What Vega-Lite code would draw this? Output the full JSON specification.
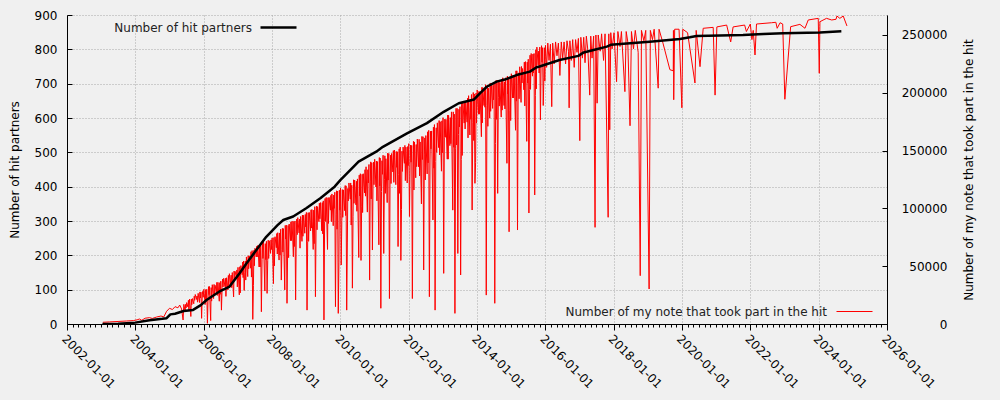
{
"$schema": "https://vega.github.io/schema/vega-lite/v6.json",
"width": 820, "height": 309,
"autosize": {"type": "none"},
"padding": {"left": 67, "top": 15, "right": 113, "bottom": 76},
"background": "#f0f0f0",
"config": {
  "view": {"stroke": null},
  "font": "DejaVu Sans",
  "axis": {"labelFont": "DejaVu Sans", "labelFontSize": 12, "labelColor": "#000", "titleFont": "DejaVu Sans", "titleFontSize": 12, "titleFontWeight": "normal", "titleColor": "#000", "domainColor": "#000", "tickColor": "#000", "gridColor": "#a8a8a8", "gridDash": [1, 2], "gridOpacity": 1}
},
"datasets": {
"notes": [
{"date":"2003-01-20","notes":1500},{"date":"2003-04-01","notes":1800},{"date":"2003-07-01","notes":2200},{"date":"2003-10-01","notes":2600},{"date":"2003-12-15","notes":3000},
{"date":"2004-01-20","notes":3600},{"date":"2004-02-15","notes":4300},{"date":"2004-03-10","notes":3200},{"date":"2004-04-15","notes":5000},{"date":"2004-06-01","notes":5500},{"date":"2004-07-01","notes":4800},{"date":"2004-08-15","notes":6000},{"date":"2004-10-01","notes":6900},{"date":"2004-11-01","notes":6200},{"date":"2004-12-01","notes":11000},
{"date":"2005-01-01","notes":13600},{"date":"2005-02-01","notes":12500},{"date":"2005-03-01","notes":15000},{"date":"2005-04-01","notes":14000},{"date":"2005-04-20","notes":16400},{"date":"2005-05-10","notes":13000},{"date":"2005-05-26","notes":3500},
{"date":"2005-06-03","notes":17000},{"date":"2005-06-17","notes":10900},{"date":"2005-07-03","notes":18500},{"date":"2005-07-17","notes":14700},{"date":"2005-08-03","notes":21500},{"date":"2005-08-17","notes":6500},{"date":"2005-09-03","notes":22000},{"date":"2005-09-17","notes":17500},{"date":"2005-10-03","notes":25500},{"date":"2005-10-17","notes":21300},{"date":"2005-11-03","notes":26500},{"date":"2005-11-17","notes":18600},{"date":"2005-12-03","notes":27500},{"date":"2005-12-10","notes":4900},{"date":"2005-12-17","notes":25200},
{"date":"2006-01-03","notes":30000},{"date":"2006-01-17","notes":16800},{"date":"2006-02-03","notes":30000},{"date":"2006-02-10","notes":600},{"date":"2006-02-17","notes":21900},{"date":"2006-03-03","notes":32500},{"date":"2006-03-17","notes":3000},{"date":"2006-04-03","notes":34000},{"date":"2006-04-17","notes":22000},{"date":"2006-05-03","notes":33500},{"date":"2006-05-17","notes":27100},{"date":"2006-06-03","notes":36000},{"date":"2006-06-17","notes":19700},{"date":"2006-07-03","notes":37000},{"date":"2006-07-10","notes":12000},{"date":"2006-07-17","notes":31400},{"date":"2006-08-03","notes":39500},{"date":"2006-08-17","notes":32300},{"date":"2006-09-03","notes":40000},{"date":"2006-09-17","notes":29500},{"date":"2006-10-03","notes":43500},{"date":"2006-10-17","notes":34500},{"date":"2006-11-03","notes":44500},{"date":"2006-11-17","notes":23400},{"date":"2006-12-03","notes":45500},{"date":"2006-12-17","notes":40500},
{"date":"2007-01-03","notes":49000},{"date":"2007-01-17","notes":25200},{"date":"2007-02-03","notes":50500},{"date":"2007-02-17","notes":42600},{"date":"2007-03-03","notes":54500},{"date":"2007-03-10","notes":29000},{"date":"2007-03-17","notes":44800},{"date":"2007-04-03","notes":58000},{"date":"2007-04-17","notes":41000},{"date":"2007-05-03","notes":59000},{"date":"2007-05-17","notes":48300},{"date":"2007-06-03","notes":63500},{"date":"2007-06-10","notes":4000},{"date":"2007-06-17","notes":33400},{"date":"2007-07-03","notes":65500},{"date":"2007-07-17","notes":58000},{"date":"2007-08-03","notes":68000},{"date":"2007-08-17","notes":49300},{"date":"2007-09-03","notes":68000},{"date":"2007-09-10","notes":10600},{"date":"2007-09-17","notes":55900},{"date":"2007-10-03","notes":71000},{"date":"2007-10-17","notes":28500},{"date":"2007-11-03","notes":71500},{"date":"2007-11-10","notes":26500},{"date":"2007-11-17","notes":55000},{"date":"2007-12-03","notes":72000},{"date":"2007-12-17","notes":61100},
{"date":"2008-01-03","notes":74500},{"date":"2008-01-17","notes":34900},{"date":"2008-02-03","notes":75500},{"date":"2008-02-17","notes":66000},{"date":"2008-03-03","notes":79000},{"date":"2008-03-17","notes":55300},{"date":"2008-04-03","notes":82000},{"date":"2008-04-10","notes":38000},{"date":"2008-04-17","notes":64400},{"date":"2008-05-03","notes":82500},{"date":"2008-05-17","notes":29500},{"date":"2008-06-03","notes":85500},{"date":"2008-06-10","notes":17900},{"date":"2008-06-17","notes":64000},{"date":"2008-07-03","notes":86500},{"date":"2008-07-17","notes":72100},{"date":"2008-08-03","notes":89000},{"date":"2008-08-17","notes":58200},{"date":"2008-09-03","notes":89000},{"date":"2008-09-10","notes":20800},{"date":"2008-09-17","notes":78400},{"date":"2008-10-03","notes":92000},{"date":"2008-10-17","notes":78800},{"date":"2008-11-03","notes":93000},{"date":"2008-11-17","notes":71500},{"date":"2008-12-03","notes":94000},{"date":"2008-12-17","notes":78500},
{"date":"2009-01-03","notes":96500},{"date":"2009-01-10","notes":12000},{"date":"2009-01-17","notes":71500},{"date":"2009-02-03","notes":96500},{"date":"2009-02-17","notes":80500},{"date":"2009-03-03","notes":99000},{"date":"2009-03-17","notes":64500},{"date":"2009-04-03","notes":101500},{"date":"2009-04-10","notes":23600},{"date":"2009-04-17","notes":87800},{"date":"2009-05-03","notes":101500},{"date":"2009-05-17","notes":88500},{"date":"2009-06-03","notes":105000},{"date":"2009-06-17","notes":80500},{"date":"2009-07-03","notes":106500},{"date":"2009-07-10","notes":3500},{"date":"2009-07-17","notes":88800},{"date":"2009-08-03","notes":109500},{"date":"2009-08-17","notes":64500},{"date":"2009-09-03","notes":109500},{"date":"2009-09-17","notes":98500},{"date":"2009-10-03","notes":112500},{"date":"2009-10-17","notes":85000},{"date":"2009-11-03","notes":114000},{"date":"2009-11-10","notes":15000},{"date":"2009-11-17","notes":94500},{"date":"2009-12-03","notes":115000},{"date":"2009-12-10","notes":9200},{"date":"2009-12-17","notes":53500},
{"date":"2010-01-03","notes":117500},{"date":"2010-01-10","notes":51000},{"date":"2010-01-17","notes":89500},{"date":"2010-02-03","notes":116000},{"date":"2010-02-17","notes":98000},{"date":"2010-03-03","notes":119500},{"date":"2010-03-10","notes":12000},{"date":"2010-03-17","notes":70100},{"date":"2010-04-03","notes":122000},{"date":"2010-04-17","notes":108000},{"date":"2010-05-03","notes":120000},{"date":"2010-05-10","notes":31000},{"date":"2010-05-17","notes":93200},{"date":"2010-06-03","notes":124500},{"date":"2010-06-17","notes":103100},{"date":"2010-07-03","notes":125500},{"date":"2010-07-17","notes":57500},{"date":"2010-08-03","notes":130000},{"date":"2010-08-10","notes":55000},{"date":"2010-08-17","notes":102000},{"date":"2010-09-03","notes":130000},{"date":"2010-09-17","notes":113400},{"date":"2010-10-03","notes":136000},{"date":"2010-10-17","notes":96800},{"date":"2010-11-03","notes":138000},{"date":"2010-11-10","notes":38000},{"date":"2010-11-17","notes":123600},{"date":"2010-12-03","notes":139500},{"date":"2010-12-10","notes":64000},{"date":"2010-12-17","notes":124700},
{"date":"2011-01-03","notes":142500},{"date":"2011-01-17","notes":118500},{"date":"2011-02-03","notes":140500},{"date":"2011-02-17","notes":68500},{"date":"2011-03-03","notes":143500},{"date":"2011-03-10","notes":13600},{"date":"2011-03-17","notes":114500},{"date":"2011-04-03","notes":146000},{"date":"2011-04-10","notes":61000},{"date":"2011-04-17","notes":125000},{"date":"2011-05-03","notes":143000},{"date":"2011-05-17","notes":105000},{"date":"2011-06-03","notes":147500},{"date":"2011-06-10","notes":22000},{"date":"2011-06-17","notes":132000},{"date":"2011-07-03","notes":147500},{"date":"2011-07-17","notes":131500},{"date":"2011-08-03","notes":150500},{"date":"2011-08-17","notes":120500},{"date":"2011-09-03","notes":149000},{"date":"2011-09-10","notes":67000},{"date":"2011-09-17","notes":129500},{"date":"2011-10-03","notes":153000},{"date":"2011-10-10","notes":55000},{"date":"2011-10-17","notes":99000},{"date":"2011-11-03","notes":153000},{"date":"2011-11-17","notes":139000},{"date":"2011-12-03","notes":153000},{"date":"2011-12-17","notes":122000},
{"date":"2012-01-03","notes":156000},{"date":"2012-01-10","notes":93000},{"date":"2012-01-17","notes":138400},{"date":"2012-02-03","notes":154500},{"date":"2012-02-10","notes":22000},{"date":"2012-02-17","notes":138300},{"date":"2012-03-03","notes":157500},{"date":"2012-03-17","notes":126500},{"date":"2012-04-03","notes":160000},{"date":"2012-04-17","notes":136000},{"date":"2012-05-03","notes":157500},{"date":"2012-05-17","notes":103900},{"date":"2012-06-03","notes":162000},{"date":"2012-06-10","notes":46700},{"date":"2012-06-17","notes":147000},{"date":"2012-07-03","notes":163000},{"date":"2012-07-17","notes":129800},{"date":"2012-08-03","notes":167500},{"date":"2012-08-10","notes":23600},{"date":"2012-08-17","notes":141900},{"date":"2012-09-03","notes":167000},{"date":"2012-09-17","notes":90000},{"date":"2012-10-03","notes":172500},{"date":"2012-10-10","notes":12000},{"date":"2012-10-17","notes":140500},{"date":"2012-11-03","notes":174000},{"date":"2012-11-17","notes":152600},{"date":"2012-12-03","notes":175000},{"date":"2012-12-17","notes":132200},
{"date":"2013-01-03","notes":178500},{"date":"2013-01-10","notes":43800},{"date":"2013-01-17","notes":161500},{"date":"2013-02-03","notes":177000},{"date":"2013-02-17","notes":142600},{"date":"2013-03-03","notes":180500},{"date":"2013-03-17","notes":154300},{"date":"2013-04-03","notes":183500},{"date":"2013-04-17","notes":98500},{"date":"2013-05-03","notes":181500},{"date":"2013-05-10","notes":9200},{"date":"2013-05-17","notes":151500},{"date":"2013-06-03","notes":186500},{"date":"2013-06-10","notes":61000},{"date":"2013-06-17","notes":163700},{"date":"2013-07-03","notes":188000},{"date":"2013-07-10","notes":42400},{"date":"2013-07-17","notes":142400},{"date":"2013-08-03","notes":192500},{"date":"2013-08-17","notes":173800},{"date":"2013-09-03","notes":192000},{"date":"2013-09-17","notes":174600},{"date":"2013-10-03","notes":197500},{"date":"2013-10-17","notes":163500},{"date":"2013-11-03","notes":198500},{"date":"2013-11-10","notes":98600},{"date":"2013-11-17","notes":174000},{"date":"2013-12-03","notes":199000},{"date":"2013-12-10","notes":121700},{"date":"2013-12-17","notes":139800},
{"date":"2014-01-03","notes":202500},{"date":"2014-01-17","notes":181500},{"date":"2014-02-03","notes":201000},{"date":"2014-02-17","notes":162000},{"date":"2014-03-03","notes":204500},{"date":"2014-03-17","notes":189000},{"date":"2014-04-03","notes":207000},{"date":"2014-04-10","notes":25000},{"date":"2014-04-17","notes":189000},{"date":"2014-05-03","notes":204000},{"date":"2014-05-17","notes":178000},{"date":"2014-06-03","notes":208000},{"date":"2014-06-17","notes":186500},{"date":"2014-07-03","notes":208000},{"date":"2014-07-10","notes":17900},{"date":"2014-07-17","notes":156000},{"date":"2014-08-03","notes":211000},{"date":"2014-08-10","notes":113000},{"date":"2014-08-17","notes":196000},{"date":"2014-09-03","notes":209000},{"date":"2014-09-17","notes":179000},{"date":"2014-10-03","notes":213000},{"date":"2014-10-17","notes":189000},{"date":"2014-11-03","notes":213000},{"date":"2014-11-17","notes":139000},{"date":"2014-12-03","notes":213000},{"date":"2014-12-10","notes":79800},{"date":"2014-12-17","notes":185000},
{"date":"2015-01-03","notes":216500},{"date":"2015-01-17","notes":195500},{"date":"2015-02-03","notes":215000},{"date":"2015-02-17","notes":167600},{"date":"2015-03-03","notes":219000},{"date":"2015-03-10","notes":81300},{"date":"2015-03-17","notes":206000},{"date":"2015-04-03","notes":222500},{"date":"2015-04-17","notes":191700},{"date":"2015-05-03","notes":221000},{"date":"2015-05-17","notes":202600},{"date":"2015-06-03","notes":227000},{"date":"2015-06-17","notes":158000},{"date":"2015-07-03","notes":229000},{"date":"2015-07-10","notes":96000},{"date":"2015-07-17","notes":203000},{"date":"2015-08-03","notes":234000},{"date":"2015-08-17","notes":214400},{"date":"2015-09-03","notes":234000},{"date":"2015-09-10","notes":111600},{"date":"2015-09-17","notes":197800},{"date":"2015-10-03","notes":239500},{"date":"2015-10-17","notes":224100},{"date":"2015-11-03","notes":239500},{"date":"2015-11-10","notes":176500},{"date":"2015-11-17","notes":223700},{"date":"2015-12-03","notes":239000},{"date":"2015-12-10","notes":189000},{"date":"2015-12-17","notes":213000},
{"date":"2016-01-03","notes":241000},{"date":"2016-01-15","notes":222000},{"date":"2016-01-28","notes":243000},{"date":"2016-02-10","notes":228000},{"date":"2016-02-25","notes":242000},{"date":"2016-03-10","notes":188000},{"date":"2016-03-20","notes":243000},{"date":"2016-04-05","notes":225000},{"date":"2016-04-20","notes":244000},{"date":"2016-05-05","notes":232000},{"date":"2016-05-20","notes":243000},{"date":"2016-06-05","notes":215000},{"date":"2016-06-20","notes":244000},{"date":"2016-07-05","notes":230000},{"date":"2016-07-20","notes":244000},{"date":"2016-08-05","notes":225000},{"date":"2016-08-20","notes":245000},{"date":"2016-09-05","notes":236000},{"date":"2016-09-12","notes":187000},{"date":"2016-09-20","notes":245000},{"date":"2016-10-05","notes":228000},{"date":"2016-10-20","notes":246000},{"date":"2016-11-05","notes":222000},{"date":"2016-11-20","notes":246000},{"date":"2016-12-05","notes":235000},{"date":"2016-12-20","notes":247000},
{"date":"2017-01-04","notes":158600},{"date":"2017-01-15","notes":248000},{"date":"2017-02-01","notes":230000},{"date":"2017-02-15","notes":248000},{"date":"2017-03-01","notes":226000},{"date":"2017-03-15","notes":249000},{"date":"2017-04-01","notes":236000},{"date":"2017-04-20","notes":198000},{"date":"2017-05-01","notes":249000},{"date":"2017-05-15","notes":230000},{"date":"2017-06-01","notes":249000},{"date":"2017-06-16","notes":83600},{"date":"2017-06-25","notes":250000},{"date":"2017-07-08","notes":191000},{"date":"2017-07-20","notes":250000},{"date":"2017-08-10","notes":236000},{"date":"2017-08-25","notes":251000},{"date":"2017-09-15","notes":228000},{"date":"2017-10-01","notes":251000},{"date":"2017-11-03","notes":92300},{"date":"2017-11-10","notes":251000},{"date":"2017-11-20","notes":168000},{"date":"2017-12-01","notes":252000},{"date":"2017-12-15","notes":238000},
{"date":"2018-01-05","notes":252000},{"date":"2018-02-01","notes":209600},{"date":"2018-02-15","notes":253000},{"date":"2018-03-10","notes":240000},{"date":"2018-03-25","notes":253000},{"date":"2018-05-01","notes":201000},{"date":"2018-05-15","notes":253000},{"date":"2018-06-01","notes":244000},{"date":"2018-06-25","notes":171500},{"date":"2018-07-10","notes":253000},{"date":"2018-08-01","notes":238000},{"date":"2018-08-20","notes":254000},{"date":"2018-09-20","notes":235000},{"date":"2018-10-12","notes":41800},{"date":"2018-10-25","notes":254000},{"date":"2018-11-20","notes":245000},{"date":"2018-12-10","notes":254000},
{"date":"2019-01-15","notes":30300},{"date":"2019-01-28","notes":254000},{"date":"2019-02-20","notes":246000},{"date":"2019-03-10","notes":255000},{"date":"2019-04-22","notes":204000},{"date":"2019-05-01","notes":255000},{"date":"2019-06-12","notes":243000},{"date":"2019-08-25","notes":220000},{"date":"2019-09-30","notes":219000},{"date":"2019-10-02","notes":254000},{"date":"2019-10-05","notes":194000},{"date":"2019-10-15","notes":255000},{"date":"2019-12-01","notes":255000},{"date":"2019-12-31","notes":187000},
{"date":"2020-01-10","notes":255000},{"date":"2020-03-01","notes":252000},{"date":"2020-05-19","notes":208500},{"date":"2020-06-01","notes":254000},{"date":"2020-07-12","notes":222600},{"date":"2020-08-15","notes":255800},{"date":"2020-11-30","notes":256600},{"date":"2020-12-20","notes":198000},
{"date":"2021-01-08","notes":257000},{"date":"2021-04-23","notes":258600},{"date":"2021-06-05","notes":244000},{"date":"2021-07-01","notes":257000},{"date":"2021-11-01","notes":258600},{"date":"2021-11-20","notes":253000},
{"date":"2022-01-01","notes":259500},{"date":"2022-01-18","notes":246000},{"date":"2022-02-01","notes":254000},{"date":"2022-02-20","notes":232700},{"date":"2022-03-08","notes":259500},{"date":"2022-08-15","notes":260600},{"date":"2022-10-01","notes":261000},{"date":"2022-10-15","notes":255800},{"date":"2022-11-15","notes":260600},{"date":"2022-12-13","notes":259500},
{"date":"2023-01-05","notes":194400},{"date":"2023-03-08","notes":257200},{"date":"2023-06-15","notes":259200},{"date":"2023-08-08","notes":255800},{"date":"2023-09-12","notes":263000},{"date":"2023-12-28","notes":264400},
{"date":"2024-01-08","notes":216900},{"date":"2024-01-15","notes":261500},{"date":"2024-03-25","notes":264400},{"date":"2024-05-20","notes":263000},{"date":"2024-07-05","notes":263600},{"date":"2024-07-15","notes":266400},{"date":"2024-08-15","notes":264400},{"date":"2024-09-20","notes":266400},{"date":"2024-10-30","notes":257800},
{"date":"2005-06-22","notes":17000},{"date":"2005-06-27","notes":13900},{"date":"2005-07-22","notes":20500},{"date":"2005-07-27","notes":12300},{"date":"2005-08-22","notes":21500},{"date":"2005-08-27","notes":16700},{"date":"2005-09-22","notes":24000},{"date":"2005-09-27","notes":20500},{"date":"2005-10-22","notes":24250},{"date":"2005-10-27","notes":18900},{"date":"2005-11-22","notes":27750},{"date":"2005-11-27","notes":22500},{"date":"2005-12-22","notes":28250},{"date":"2005-12-27","notes":23100},
{"date":"2006-01-22","notes":29750},{"date":"2006-01-27","notes":20400},{"date":"2006-02-22","notes":32250},{"date":"2006-02-27","notes":25500},{"date":"2006-03-22","notes":31500},{"date":"2006-03-27","notes":19800},{"date":"2006-04-22","notes":34250},{"date":"2006-04-27","notes":25000},{"date":"2006-05-22","notes":36000},{"date":"2006-05-27","notes":24700},{"date":"2006-06-22","notes":35750},{"date":"2006-06-27","notes":25700},{"date":"2006-07-22","notes":38750},{"date":"2006-07-27","notes":32000},{"date":"2006-08-22","notes":39500},{"date":"2006-08-27","notes":23900},{"date":"2006-09-22","notes":42000},{"date":"2006-09-27","notes":33100},{"date":"2006-10-22","notes":42250},{"date":"2006-10-27","notes":31500},{"date":"2006-11-22","notes":45750},{"date":"2006-11-27","notes":37800},{"date":"2006-12-22","notes":46750},{"date":"2006-12-27","notes":32100},
{"date":"2007-01-22","notes":49500},{"date":"2007-01-27","notes":26900},{"date":"2007-02-22","notes":53500},{"date":"2007-02-27","notes":40100},{"date":"2007-03-22","notes":54500},{"date":"2007-03-27","notes":38000},{"date":"2007-04-22","notes":59000},{"date":"2007-04-27","notes":47800},{"date":"2007-05-22","notes":62500},{"date":"2007-05-27","notes":40600},{"date":"2007-06-22","notes":63750},{"date":"2007-06-27","notes":50400},{"date":"2007-07-22","notes":67250},{"date":"2007-07-27","notes":58000},{"date":"2007-08-22","notes":67750},{"date":"2007-08-27","notes":49300},{"date":"2007-09-22","notes":69750},{"date":"2007-09-27","notes":56750},{"date":"2007-10-22","notes":69500},{"date":"2007-10-27","notes":55700},{"date":"2007-11-22","notes":72500},{"date":"2007-11-27","notes":56700},{"date":"2007-12-22","notes":72750},{"date":"2007-12-27","notes":64500},
{"date":"2008-01-22","notes":74750},{"date":"2008-01-27","notes":50300},{"date":"2008-02-22","notes":78250},{"date":"2008-02-27","notes":60500},{"date":"2008-03-22","notes":78750},{"date":"2008-03-27","notes":59700},{"date":"2008-04-22","notes":82750},{"date":"2008-04-27","notes":62200},{"date":"2008-05-22","notes":85250},{"date":"2008-05-27","notes":73500},{"date":"2008-06-22","notes":85250},{"date":"2008-06-27","notes":57400},{"date":"2008-07-22","notes":88250},{"date":"2008-07-27","notes":72100},{"date":"2008-08-22","notes":88750},{"date":"2008-08-27","notes":67000},{"date":"2008-09-22","notes":90750},{"date":"2008-09-27","notes":77300},{"date":"2008-10-22","notes":90750},{"date":"2008-10-27","notes":65600},{"date":"2008-11-22","notes":94250},{"date":"2008-11-27","notes":75900},{"date":"2008-12-22","notes":94750},{"date":"2008-12-27","notes":84000},
{"date":"2009-01-22","notes":96250},{"date":"2009-01-27","notes":71500},{"date":"2009-02-22","notes":98750},{"date":"2009-02-27","notes":83000},{"date":"2009-03-22","notes":98500},{"date":"2009-03-27","notes":69500},{"date":"2009-04-22","notes":102000},{"date":"2009-04-27","notes":81500},{"date":"2009-05-22","notes":104500},{"date":"2009-05-27","notes":91000},{"date":"2009-06-22","notes":105000},{"date":"2009-06-27","notes":78000},{"date":"2009-07-22","notes":108500},{"date":"2009-07-27","notes":88750},{"date":"2009-08-22","notes":109250},{"date":"2009-08-27","notes":87000},{"date":"2009-09-22","notes":111250},{"date":"2009-09-27","notes":88500},{"date":"2009-10-22","notes":111500},{"date":"2009-10-27","notes":100000},{"date":"2009-11-22","notes":115250},{"date":"2009-11-27","notes":82000},{"date":"2009-12-22","notes":115750},{"date":"2009-12-27","notes":98500},
{"date":"2010-01-22","notes":116250},{"date":"2010-01-27","notes":92300},{"date":"2010-02-22","notes":119750},{"date":"2010-02-27","notes":93800},{"date":"2010-03-22","notes":117250},{"date":"2010-03-27","notes":106500},{"date":"2010-04-22","notes":122000},{"date":"2010-04-27","notes":85600},{"date":"2010-05-22","notes":124750},{"date":"2010-05-27","notes":104400},{"date":"2010-06-22","notes":123500},{"date":"2010-06-27","notes":97500},{"date":"2010-07-22","notes":128750},{"date":"2010-07-27","notes":110700},{"date":"2010-08-22","notes":129500},{"date":"2010-08-27","notes":96400},{"date":"2010-09-22","notes":133500},{"date":"2010-09-27","notes":110600},{"date":"2010-10-22","notes":133500},{"date":"2010-10-27","notes":122000},{"date":"2010-11-22","notes":140250},{"date":"2010-11-27","notes":108200},{"date":"2010-12-22","notes":140000},{"date":"2010-12-27","notes":120500},
{"date":"2011-01-22","notes":141000},{"date":"2011-01-27","notes":106500},{"date":"2011-02-22","notes":144000},{"date":"2011-02-27","notes":119500},{"date":"2011-03-22","notes":141250},{"date":"2011-03-27","notes":129500},{"date":"2011-04-22","notes":145500},{"date":"2011-04-27","notes":113000},{"date":"2011-05-22","notes":147750},{"date":"2011-05-27","notes":124500},{"date":"2011-06-22","notes":146000},{"date":"2011-06-27","notes":121500},{"date":"2011-07-22","notes":150000},{"date":"2011-07-27","notes":122500},{"date":"2011-08-22","notes":149250},{"date":"2011-08-27","notes":135500},{"date":"2011-09-22","notes":151500},{"date":"2011-09-27","notes":113000},{"date":"2011-10-22","notes":149500},{"date":"2011-10-27","notes":132000},{"date":"2011-11-22","notes":154500},{"date":"2011-11-27","notes":124000},{"date":"2011-12-22","notes":153500},{"date":"2011-12-27","notes":137000},
{"date":"2012-01-22","notes":154750},{"date":"2012-01-27","notes":140000},{"date":"2012-02-22","notes":158000},{"date":"2012-02-27","notes":115900},{"date":"2012-03-22","notes":155250},{"date":"2012-03-27","notes":136100},{"date":"2012-04-22","notes":159750},{"date":"2012-04-27","notes":128000},{"date":"2012-05-22","notes":162250},{"date":"2012-05-27","notes":142300},{"date":"2012-06-22","notes":161000},{"date":"2012-06-27","notes":124600},{"date":"2012-07-22","notes":166250},{"date":"2012-07-27","notes":139400},{"date":"2012-08-22","notes":166750},{"date":"2012-08-27","notes":151500},{"date":"2012-09-22","notes":170250},{"date":"2012-09-27","notes":134800},{"date":"2012-10-22","notes":169750},{"date":"2012-10-27","notes":148500},{"date":"2012-11-22","notes":176000},{"date":"2012-11-27","notes":146200},{"date":"2012-12-22","notes":175750},{"date":"2012-12-27","notes":148200},
{"date":"2013-01-22","notes":177250},{"date":"2013-01-27","notes":161500},{"date":"2013-02-22","notes":180750},{"date":"2013-02-27","notes":142600},{"date":"2013-03-22","notes":178500},{"date":"2013-03-27","notes":156000},{"date":"2013-04-22","notes":183500},{"date":"2013-04-27","notes":152900},{"date":"2013-05-22","notes":186500},{"date":"2013-05-27","notes":154900},{"date":"2013-06-22","notes":185750},{"date":"2013-06-27","notes":170500},{"date":"2013-07-22","notes":191250},{"date":"2013-07-27","notes":145800},{"date":"2013-08-22","notes":191750},{"date":"2013-08-27","notes":168700},{"date":"2013-09-22","notes":195250},{"date":"2013-09-27","notes":161000},{"date":"2013-10-22","notes":194500},{"date":"2013-10-27","notes":177100},{"date":"2013-11-22","notes":200250},{"date":"2013-11-27","notes":158700},{"date":"2013-12-22","notes":199750},{"date":"2013-12-27","notes":173800},
{"date":"2014-01-22","notes":201250},{"date":"2014-01-27","notes":181500},{"date":"2014-02-22","notes":204750},{"date":"2014-02-27","notes":174000},{"date":"2014-03-22","notes":202250},{"date":"2014-03-27","notes":187500},{"date":"2014-04-22","notes":206500},{"date":"2014-04-27","notes":171000},{"date":"2014-05-22","notes":208500},{"date":"2014-05-27","notes":184000},{"date":"2014-06-22","notes":206500},{"date":"2014-06-27","notes":194000},{"date":"2014-07-22","notes":210500},{"date":"2014-07-27","notes":177000},{"date":"2014-08-22","notes":209500},{"date":"2014-08-27","notes":188500},{"date":"2014-09-22","notes":211500},{"date":"2014-09-27","notes":185000},{"date":"2014-10-22","notes":209500},{"date":"2014-10-27","notes":186000},{"date":"2014-11-22","notes":214500},{"date":"2014-11-27","notes":199000},{"date":"2014-12-22","notes":213750},{"date":"2014-12-27","notes":176000},
{"date":"2015-01-22","notes":215250},{"date":"2015-01-27","notes":195500},{"date":"2015-02-22","notes":219000},{"date":"2015-02-27","notes":192800},{"date":"2015-03-22","notes":217250},{"date":"2015-03-27","notes":194800},{"date":"2015-04-22","notes":222750},{"date":"2015-04-27","notes":208500},{"date":"2015-05-22","notes":226500},{"date":"2015-05-27","notes":188600},{"date":"2015-06-22","notes":226500},{"date":"2015-06-27","notes":208400},{"date":"2015-07-22","notes":232500},{"date":"2015-07-27","notes":203000},{"date":"2015-08-22","notes":233500},{"date":"2015-08-27","notes":217200},{"date":"2015-09-22","notes":237250},{"date":"2015-09-27","notes":203400},{"date":"2015-10-22","notes":236000},{"date":"2015-10-27","notes":217100},{"date":"2015-11-22","notes":240750},{"date":"2015-11-27","notes":226500},{"date":"2015-12-22","notes":239000},{"date":"2015-12-27","notes":210200}
],
"partners": [
{"date":"2003-01-15","partners":0},{"date":"2003-07-01","partners":1},{"date":"2004-01-01","partners":4},{"date":"2004-06-01","partners":11},{"date":"2004-10-15","partners":15},{"date":"2004-12-01","partners":17},{"date":"2005-01-10","partners":28},{"date":"2005-03-01","partners":30},{"date":"2005-06-01","partners":38},{"date":"2005-09-10","partners":41},{"date":"2005-12-01","partners":55},
{"date":"2006-02-01","partners":70},{"date":"2006-06-15","partners":94},{"date":"2006-10-05","partners":109},{"date":"2007-01-20","partners":148},{"date":"2007-04-05","partners":177},{"date":"2007-07-20","partners":216},{"date":"2007-11-01","partners":254},{"date":"2008-03-01","partners":288},{"date":"2008-05-01","partners":303},{"date":"2008-08-15","partners":313},{"date":"2009-01-01","partners":337},{"date":"2009-06-01","partners":366},{"date":"2009-11-01","partners":400},{"date":"2010-01-01","partners":419},{"date":"2010-07-15","partners":473},{"date":"2011-01-20","partners":502},{"date":"2011-04-01","partners":516},{"date":"2011-12-15","partners":555},{"date":"2012-07-15","partners":585},{"date":"2013-01-10","partners":618},{"date":"2013-06-20","partners":643},{"date":"2013-12-01","partners":654},{"date":"2014-02-01","partners":672},{"date":"2014-04-15","partners":691},{"date":"2014-07-30","partners":706},{"date":"2014-10-25","partners":712},{"date":"2015-02-28","partners":725},{"date":"2015-07-20","partners":735},{"date":"2015-09-30","partners":748},{"date":"2015-11-01","partners":750},{"date":"2016-06-01","partners":769},{"date":"2016-12-20","partners":781},{"date":"2017-02-15","partners":791},{"date":"2017-07-01","partners":800},{"date":"2017-10-20","partners":808},{"date":"2017-12-01","partners":813},{"date":"2018-06-25","partners":818},{"date":"2019-01-20","partners":822},{"date":"2019-12-10","partners":830},{"date":"2020-03-25","partners":835},{"date":"2020-06-05","partners":839},{"date":"2021-10-15","partners":842},{"date":"2022-05-20","partners":845},{"date":"2022-12-15","partners":847},{"date":"2024-01-15","partners":849},{"date":"2024-08-31","partners":853}
]
},
"layer": [
{
  "data": {"name": "notes"},
  "mark": {"type": "line", "strokeWidth": 1, "clip": true},
  "encoding": {
    "x": {"field": "date", "type": "temporal",
      "scale": {"type": "utc", "domain": [{"year": 2002, "month": 1, "date": 1, "utc": true}, {"year": 2026, "month": 1, "date": 1, "utc": true}]},
      "axis": {"orient": "bottom", "title": null, "format": "%Y-%m-%d", "tickCount": {"interval": "year", "step": 2}, "labelAngle": 45, "labelAlign": "left", "labelBaseline": "top", "tickSize": 6, "labelPadding": 3, "grid": true, "labelFlush": false, "labelOverlap": false}},
    "y": {"field": "notes", "type": "quantitative",
      "scale": {"domain": [0, 267300], "nice": false},
      "axis": {"orient": "right", "title": "Number of my note that took part in the hit", "values": [0, 50000, 100000, 150000, 200000, 250000], "format": "d", "grid": false, "tickSize": -5, "labelPadding": 65, "labelAlign": "right", "labelBaseline": "middle", "titleAngle": 270, "titleX": 81, "titleY": 154.5, "titleAlign": "center", "titleBaseline": "middle"}},
    "color": {"datum": "Number of my note that took part in the hit", "type": "nominal",
      "scale": {"range": ["#ff0000"]},
      "legend": {"orient": "none", "legendX": 769, "legendY": 278, "title": null, "symbolType": "stroke", "symbolSize": 1296, "symbolStrokeWidth": 1, "labelAlign": "right", "labelOffset": -46, "labelFont": "DejaVu Sans", "labelFontSize": 12, "labelColor": "#222", "labelLimit": 500, "padding": 0}}
  }
},
{
  "data": {"name": "partners"},
  "mark": {"type": "line", "strokeWidth": 2.5, "strokeJoin": "round", "clip": true},
  "encoding": {
    "x": {"field": "date", "type": "temporal",
      "axis": {"orient": "bottom", "title": null, "labels": false, "grid": false, "domain": false, "tickCount": {"interval": "month", "step": 2}, "tickSize": 3}},
    "y": {"field": "partners", "type": "quantitative",
      "scale": {"domain": [0, 900], "nice": false},
      "axis": {"orient": "left", "title": "Number of hit partners", "values": [0, 100, 200, 300, 400, 500, 600, 700, 800, 900], "grid": true, "tickSize": -5, "labelPadding": 15, "titleAngle": 270, "titleX": -53, "titleY": 154.5, "titleAlign": "center", "titleBaseline": "middle"}},
    "color": {"datum": "Number of hit partners", "type": "nominal",
      "scale": {"range": ["#000000"]},
      "legend": {"orient": "none", "legendX": 192, "legendY": -7, "title": null, "symbolType": "stroke", "symbolSize": 1296, "symbolStrokeWidth": 2.5, "labelAlign": "right", "labelOffset": -46, "labelFont": "DejaVu Sans", "labelFontSize": 12, "labelColor": "#222", "labelLimit": 500, "padding": 0}}
  }
}
],
"resolve": {"scale": {"y": "independent", "color": "independent"}, "axis": {"x": "independent"}}
}
